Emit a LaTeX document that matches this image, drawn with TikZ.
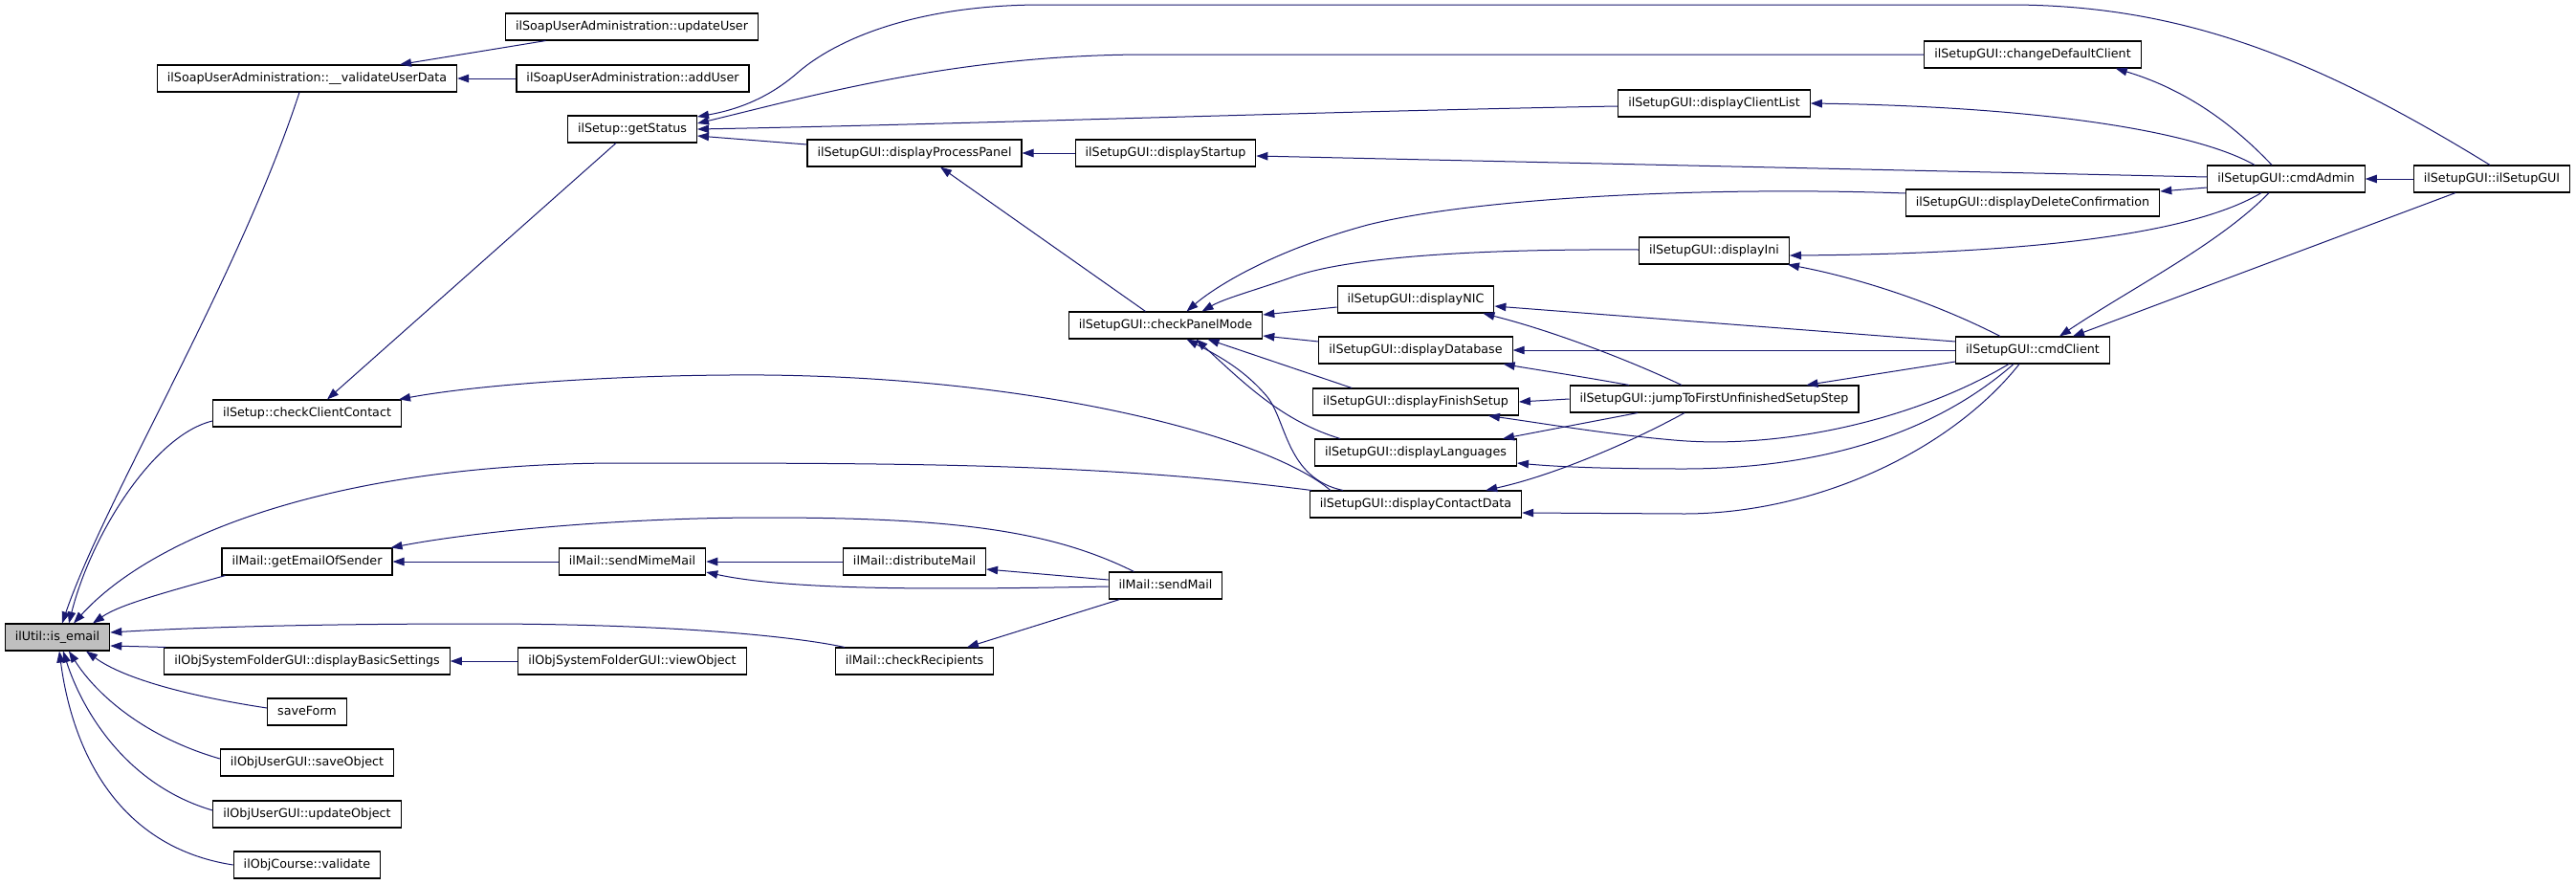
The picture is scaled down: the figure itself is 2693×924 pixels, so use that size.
\documentclass[tikz,border=0pt]{standalone}
\usepackage{fontspec}
\setmainfont{DejaVu Sans}
\usetikzlibrary{arrows.meta,calc}
\definecolor{edgecol}{RGB}{25,25,112}
\definecolor{hl}{RGB}{191,191,191}
\begin{document}
\begin{tikzpicture}[x=1pt,y=-1pt,
  fn/.style={draw=black,line width=1.1pt,fill=white,inner xsep=10.5pt,inner ysep=0pt,minimum height=28pt,font=\fontsize{12.7}{15}\selectfont,text height=9.3pt,text depth=2.7pt},
  hi/.style={fn,fill=hl},
  e/.style={draw=edgecol,line width=1pt,-{Triangle[length=12pt,width=8.5pt]}}]
\useasboundingbox[fill=white] (0,0) rectangle (2693,924);
% nodes
\node[hi] (ie) at (60,666) {ilUtil::is\_email};
\node[fn] (vud) at (321,82) {ilSoapUserAdministration::\_\_validateUserData};
\node[fn] (uu) at (660.5,28) {ilSoapUserAdministration::updateUser};
\node[fn] (au) at (661.5,82) {ilSoapUserAdministration::addUser};
\node[fn] (gs) at (661,135) {ilSetup::getStatus};
\node[fn] (ccc) at (321,432) {ilSetup::checkClientContact};
\node[fn] (geos) at (321,587) {ilMail::getEmailOfSender};
\node[fn] (smm) at (661,587) {ilMail::sendMimeMail};
\node[fn] (dbs) at (321,691) {ilObjSystemFolderGUI::displayBasicSettings};
\node[fn] (vo) at (661,691) {ilObjSystemFolderGUI::viewObject};
\node[fn] (sf) at (321,744) {saveForm};
\node[fn] (so) at (321,797) {ilObjUserGUI::saveObject};
\node[fn] (uo) at (321,851) {ilObjUserGUI::updateObject};
\node[fn] (val) at (321,904) {ilObjCourse::validate};
\node[fn] (dpp) at (956,160) {ilSetupGUI::displayProcessPanel};
\node[fn] (dst) at (1218.5,160) {ilSetupGUI::displayStartup};
\node[fn] (cpm) at (1218.5,340) {ilSetupGUI::checkPanelMode};
\node[fn] (dm) at (956,587) {ilMail::distributeMail};
\node[fn] (sm) at (1218.5,612) {ilMail::sendMail};
\node[fn] (cr) at (956,691) {ilMail::checkRecipients};
\node[fn] (nic) at (1480,313) {ilSetupGUI::displayNIC};
\node[fn] (db) at (1480,366) {ilSetupGUI::displayDatabase};
\node[fn] (fs) at (1480,420) {ilSetupGUI::displayFinishSetup};
\node[fn] (lang) at (1480,473) {ilSetupGUI::displayLanguages};
\node[fn] (cd) at (1480,527) {ilSetupGUI::displayContactData};
\node[fn] (cl) at (1792,108) {ilSetupGUI::displayClientList};
\node[fn] (ini) at (1792,262) {ilSetupGUI::displayIni};
\node[fn] (jump) at (1792,417) {ilSetupGUI::jumpToFirstUnfinishedSetupStep};
\node[fn] (cdc) at (2125,57) {ilSetupGUI::changeDefaultClient};
\node[fn] (ddc) at (2125,212) {ilSetupGUI::displayDeleteConfirmation};
\node[fn] (cc) at (2125,366) {ilSetupGUI::cmdClient};
\node[fn] (ca) at (2390,187) {ilSetupGUI::cmdAdmin};
\node[fn] (isg) at (2605,187) {ilSetupGUI::ilSetupGUI};
% edges: callers of is_email
\draw[e] ($(vud.south)+(-8,0)$) .. controls (250,290) and (110,520) .. ($(ie.north)+(5,0)$);
\draw[e] ($(uu.south)+(-90,0)$) -- ($(vud.north)+(97,0)$);
\draw[e] (au.west) -- (vud.east);
\draw[e] ($(ccc.west)+(0,8)$) .. controls (160,455) and (95,560) .. ($(ie.north)+(12,0)$);
\draw[e] ($(gs.south)+(-17,0)$) -- ($(ccc.north)+(21,0)$);
\draw[e] ($(cd.north west)+(2,0)$) .. controls (1150,484) and (950,484) .. (650,484) .. controls (350,484) and (160,560) .. ($(ie.north)+(17,0)$);
\draw[e] ($(cd.north west)+(22,0)$) .. controls (1330,460) and (1100,395) .. (800,392) .. controls (650,391) and (500,402) .. ($(ccc.north east)+(-3,0)$);
\draw[e] ($(geos.south west)+(4,0)$) .. controls (170,620) and (125,632) .. ($(ie.north)+(37,0)$);
\draw[e] (smm.west) -- (geos.east);
\draw[e] ($(sm.north)+(-33,0)$) .. controls (1100,555) and (1000,541) .. (800,541) .. controls (650,541) and (500,555) .. ($(geos.north east)+(-2,0)$);
\draw[e] (dm.west) -- (smm.east);
\draw[e] ($(sm.west)+(0,1)$) .. controls (1000,616) and (830,618) .. ($(smm.east)+(0,11)$);
\draw[e] ($(sm.west)+(0,-6)$) -- ($(dm.east)+(0,8)$);
\draw[e] ($(cr.north west)+(10,0)$) .. controls (830,665) and (700,652) .. (500,652) .. controls (320,652) and (200,656) .. ($(ie.east)+(0,-5)$);
\draw[e] ($(sm.south)+(-48,0)$) -- ($(cr.north)+(55,0)$);
\draw[e] ($(dbs.north west)+(2,0)$) -- ($(ie.east)+(0,9)$);
\draw[e] (vo.west) -- (dbs.east);
\draw[e] ($(sf.west)+(0,-4)$) .. controls (200,728) and (130,710) .. ($(ie.south)+(30,0)$);
\draw[e] ($(so.west)+(0,-4)$) .. controls (150,770) and (100,725) .. ($(ie.south)+(12,0)$);
\draw[e] ($(uo.west)+(0,-4)$) .. controls (130,820) and (85,740) .. ($(ie.south)+(6,0)$);
\draw[e] (val.west) .. controls (120,885) and (75,780) .. ($(ie.south)+(2,0)$);
% setup part
\draw[e] ($(isg.north)+(-2,0)$) .. controls (2420,60) and (2280,5) .. (2100,5) -- (1090,5) .. controls (950,5) and (870,45) .. (835,75) .. controls (810,97) and (780,113) .. ($(gs.east)+(0,-13)$);
\draw[e] (cdc.west) -- (1200,57) .. controls (1000,57) and (850,100) .. ($(gs.east)+(0,-6)$);
\draw[e] ($(cl.west)+(0,3)$) .. controls (1400,116) and (1000,130) .. (gs.east);
\draw[e] ($(dpp.west)+(0,-9)$) -- ($(gs.east)+(0,7)$);
\draw[e] (dst.west) -- (dpp.east);
\draw[e] ($(cpm.north)+(-21,0)$) -- ($(dpp.south)+(27,0)$);
\draw[e] ($(ca.west)+(0,-2)$) -- ($(dst.east)+(0,3)$);
\draw[e] ($(ca.north)+(-15,0)$) .. controls (2330,125) and (2280,92) .. ($(cdc.south east)+(-27,0)$);
\draw[e] ($(ca.north)+(-33,0)$) .. controls (2300,140) and (2150,112) .. (cl.east);
\draw[e] ($(ca.west)+(0,9)$) -- ($(ddc.east)+(0,-12)$);
\draw[e] ($(ca.south)+(-26,0)$) .. controls (2300,240) and (2150,265) .. ($(ini.east)+(0,5)$);
\draw[e] (isg.west) -- (ca.east);
\draw[e] ($(ca.south)+(-18,0)$) .. controls (2320,255) and (2230,300) .. ($(cc.north)+(28,0)$);
\draw[e] ($(isg.south)+(-38,0)$) -- ($(cc.north)+(42,0)$);
\draw[e] ($(cc.north)+(-34,0)$) .. controls (2020,315) and (1940,290) .. ($(ini.south east)+(-2,0)$);
\draw[e] ($(cc.west)+(0,-9)$) -- ($(nic.east)+(0,7)$);
\draw[e] (cc.west) -- (db.east);
\draw[e] ($(cc.west)+(0,12)$) -- ($(jump.north east)+(-55,0)$);
\draw[e] ($(jump.north)+(-34,0)$) .. controls (1700,375) and (1620,345) .. ($(nic.south east)+(-12,0)$);
\draw[e] ($(jump.north)+(-89,0)$) .. controls (1650,393) and (1610,387) .. ($(db.south east)+(-10,0)$);
\draw[e] (jump.west) -- (fs.east);
\draw[e] ($(jump.south)+(-80,0)$) -- ($(lang.north east)+(-15,0)$);
\draw[e] ($(jump.south)+(-31,0)$) .. controls (1700,465) and (1620,498) .. ($(cd.north east)+(-38,0)$);
\draw[e] ($(cc.south)+(-25,0)$) .. controls (2000,440) and (1860,470) .. (1750,460) .. controls (1680,454) and (1610,442) .. ($(fs.south east)+(-32,0)$);
\draw[e] ($(cc.south)+(-20,0)$) .. controls (2020,455) and (1900,490) .. (1760,490) .. controls (1680,490) and (1630,488) .. ($(lang.east)+(0,11)$);
\draw[e] ($(cc.south)+(-14,0)$) .. controls (2040,470) and (1900,537) .. (1760,537) -- ($(cd.east)+(0,9)$);
\draw[e] ($(ddc.west)+(0,-10)$) .. controls (1800,195) and (1550,205) .. (1430,235) .. controls (1330,262) and (1270,300) .. ($(cpm.north)+(22,0)$);
\draw[e] ($(ini.west)+(0,-1)$) .. controls (1550,260) and (1410,268) .. (1350,290) .. controls (1310,304) and (1280,312) .. ($(cpm.north)+(38,0)$);
\draw[e] ($(nic.west)+(0,8)$) -- ($(cpm.east)+(0,-11)$);
\draw[e] ($(db.west)+(0,-9)$) -- ($(cpm.east)+(0,11)$);
\draw[e] ($(fs.north west)+(41,0)$) -- ($(cpm.south)+(44,0)$);
\draw[e] ($(lang.north west)+(27,0)$) .. controls (1340,440) and (1300,400) .. ($(cpm.south)+(32,0)$);
\draw[e] ($(cd.north west)+(35,0)$) .. controls (1345,500) and (1345,440) .. (1325,415) .. controls (1300,385) and (1270,370) .. ($(cpm.south)+(22,0)$);
\end{tikzpicture}
\end{document}
